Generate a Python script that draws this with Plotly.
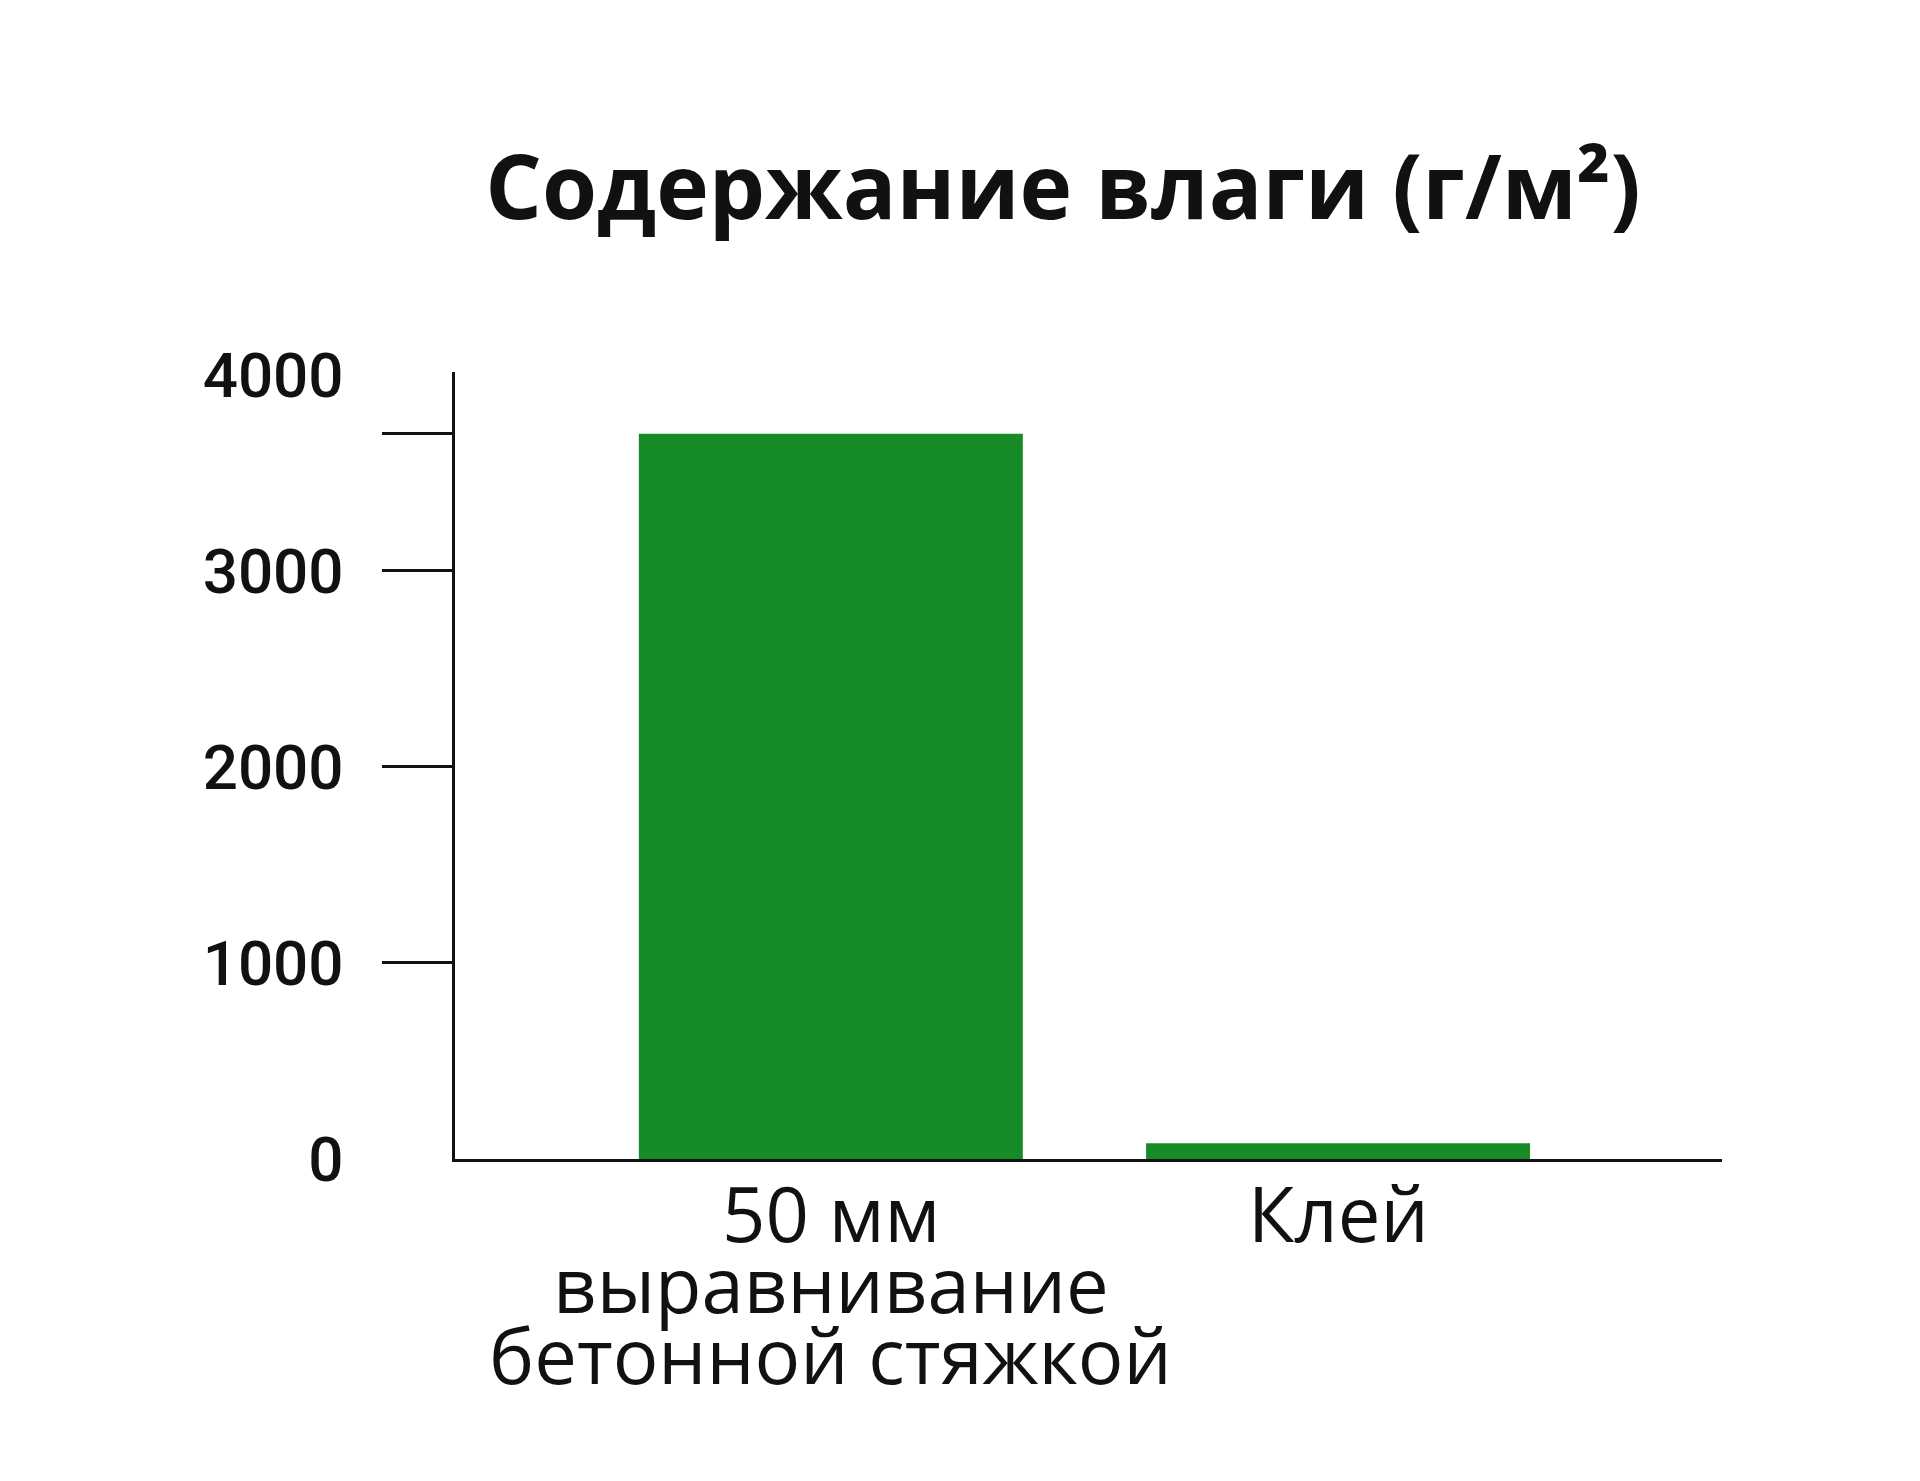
import plotly.graph_objects as go

# Data
category_lines = [["50 мм", "выравнивание", "бетонной стяжкой"], ["Клей"]]
values = [3700, 80]
label_ticks = [0, 1000, 2000, 3000, 4000]
label_text = ["0", "1000", "2000", "3000", "4000"]
mark_ticks = [1000, 2000, 3000, 3700]
title_text = "Содержание влаги (г/м²)"

GREEN = "#178b27"
INK = "#111111"
y_range = [0, 4015]
line_pitch = 71

x_idx = list(range(len(values)))

fig = go.Figure()
fig.add_trace(go.Bar(x=x_idx, y=values, marker=dict(color=GREEN, line=dict(width=0)),
                     width=0.757, showlegend=False, hoverinfo="skip"))
# invisible helper so the tick-mark axis is drawn
fig.add_trace(go.Scatter(x=x_idx, y=values, yaxis="y2", mode="markers",
                         marker=dict(opacity=0), showlegend=False, hoverinfo="skip"))

annotations = []
for i, lines in enumerate(category_lines):
    for j, txt in enumerate(lines):
        annotations.append(dict(x=x_idx[i], y=0, xref="x", yref="y", text=txt, showarrow=False,
                                xanchor="center", yanchor="top", yshift=-j * line_pitch,
                                font=dict(family="Open Sans", size=76, color=INK)))

fig.update_layout(
    width=1920, height=1481,
    paper_bgcolor="white", plot_bgcolor="white",
    margin=dict(l=447, r=206, t=364, b=330, autoexpand=False),
    title=dict(text=title_text, x=1055 / 1920, xanchor="center", y=1 - 180 / 1481, yanchor="middle",
               font=dict(family="Open Sans", size=89, color=INK, weight="bold")),
    xaxis=dict(range=[-0.741, 1.757], tickvals=x_idx, showticklabels=False,
               showline=True, linecolor=INK, linewidth=3, ticks="", showgrid=False,
               zeroline=False, automargin=False),
    yaxis=dict(range=y_range, tickmode="array", tickvals=label_ticks, ticktext=label_text,
               showline=True, linecolor=INK, linewidth=3, ticks="", showgrid=False,
               zeroline=False, ticklabelstandoff=96, automargin=False,
               tickfont=dict(family="Roboto", size=62, color=INK, weight=500)),
    yaxis2=dict(range=y_range, overlaying="y", side="left", tickmode="array", tickvals=mark_ticks,
                showticklabels=False, ticks="outside", ticklen=72, tickwidth=3, tickcolor=INK,
                showline=False, showgrid=False, zeroline=False, automargin=False),
    annotations=annotations,
)

fig.write_html("out.html")
